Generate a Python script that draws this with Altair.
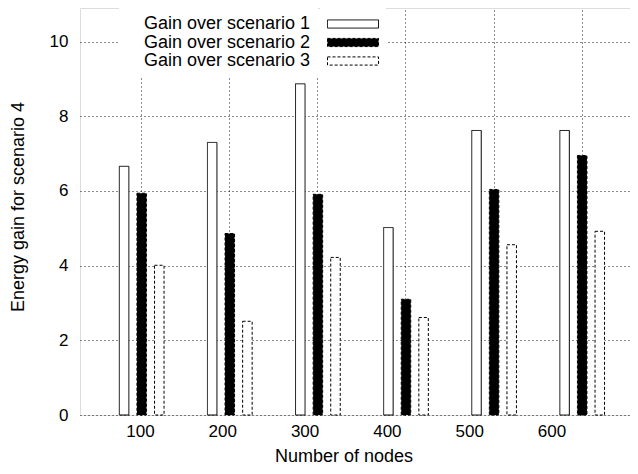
import altair as alt
import pandas as pd

nodes = ["100", "200", "300", "400", "500", "600"]
node_values = [100, 200, 300, 400, 500, 600]
series_names = ["Gain over scenario 1", "Gain over scenario 2", "Gain over scenario 3"]
gain1 = [6.66, 7.30, 8.87, 5.02, 7.62, 7.62]
gain2 = [5.94, 4.86, 5.91, 3.10, 6.04, 6.95]
gain3 = [4.01, 2.51, 4.22, 2.61, 4.56, 4.92]
y_ticks = [0, 2, 4, 6, 8, 10]

rows = []
for s, vals in zip(series_names, [gain1, gain2, gain3]):
    for n, v in zip(nodes, vals):
        rows.append({"nodes": n, "series": s, "value": v})
df = pd.DataFrame(rows)
labels_df = pd.DataFrame({"nodes": node_values})

FONT = "Liberation Sans"

# symbols-only legend (right part of the key)
legend_symbols = alt.Legend(
    orient="none", legendX=240, legendY=0, title=None,
    labelExpr="''", labelFontSize=18, labelOffset=0,
    symbolType="M-1,-0.16H1V0.16H-1Z", symbolSize=2601,
    symbolStrokeColor="black", symbolStrokeWidth=1,
    clipHeight=18, rowPadding=0.5, fillColor="white", padding=7,
)
# labels-only legend (left part of the key)
legend_labels = alt.Legend(
    orient="none", legendX=39, legendY=0, title=None,
    labelAlign="left", labelOffset=0, labelFontSize=18, labelFont=FONT,
    labelColor="black", labelLimit=400,
    symbolType="M0,0", symbolOpacity=0, symbolSize=1, symbolStrokeWidth=0,
    symbolFillColor="transparent", symbolStrokeColor="transparent",
    clipHeight=18, rowPadding=0.5, fillColor="white", padding=7,
)

bars = alt.Chart(df).transform_calculate(series_lbl="datum.series").mark_bar(
    stroke="black", strokeWidth=1
).encode(
    x=alt.X("nodes:N", sort=nodes,
            scale=alt.Scale(paddingInner=0, paddingOuter=0.1669, align=0.6),
            axis=alt.Axis(orient="top", labels=False, ticks=False, domain=False,
                          grid=True, gridDash=[1, 3], gridColor="black",
                          gridOpacity=0.9, title=None)),
    xOffset=alt.XOffset("series:N", sort=series_names,
                        scale=alt.Scale(range=[17.65, 70.45], paddingInner=0.46,
                                        paddingOuter=0.23)),
    y=alt.Y("value:Q", scale=alt.Scale(domain=[0, 10.9], nice=False, zero=True),
            axis=alt.Axis(values=y_ticks, grid=True, gridDash=[1, 3], gridColor="black",
                          gridOpacity=0.9, ticks=False, domain=False, labelPadding=12,
                          labelFontSize=17, labelFont=FONT, labelColor="black",
                          title="Energy gain for scenario 4", titleFontSize=18,
                          titleFont=FONT, titleFontWeight="normal", titleColor="black",
                          titleX=-56.5, titleY=198.5, titleAngle=270,
                          titleAlign="center", titleBaseline="alphabetic")),
    fill=alt.Fill("series:N", sort=series_names,
                  scale=alt.Scale(domain=series_names, range=["white", "black", "white"]),
                  legend=legend_symbols),
    stroke=alt.Stroke("series:N", sort=series_names,
                      scale=alt.Scale(domain=series_names, range=["black", "black", "black"]),
                      legend=legend_symbols),
    strokeDash=alt.StrokeDash("series:N", sort=series_names,
                              scale=alt.Scale(domain=series_names,
                                              range=[[1, 0], [3, 2], [3, 2]]),
                              legend=legend_symbols),
    opacity=alt.Opacity("series_lbl:N", sort=series_names,
                        scale=alt.Scale(type="ordinal", range=[1, 1, 1]),
                        legend=legend_labels),
)

labels = alt.Chart(labels_df).mark_point(opacity=0).encode(
    x=alt.X("nodes:Q", scale=alt.Scale(domain=[27.1, 705.1], nice=False, zero=False),
            axis=alt.Axis(orient="bottom", values=node_values, format="d", grid=False,
                          ticks=False, domain=False, labelPadding=8, labelFontSize=17,
                          labelFont=FONT, labelColor="black",
                          title="Number of nodes", titleFontSize=18, titleFont=FONT,
                          titleFontWeight="normal", titleColor="black",
                          titleX=263.5, titleY=46, titleAlign="center",
                          titleBaseline="alphabetic")),
)

chart = alt.layer(bars, labels).resolve_scale(x="independent").properties(
    width=558, height=407,
    autosize=alt.AutoSizeParams(type="none"),
    padding={"left": 72, "top": 0, "right": -8, "bottom": 51},
    background="white",
).configure_view(stroke="black", strokeWidth=1).configure(font=FONT)

chart.save("out.html", embed_options={"renderer": "svg", "actions": False})
